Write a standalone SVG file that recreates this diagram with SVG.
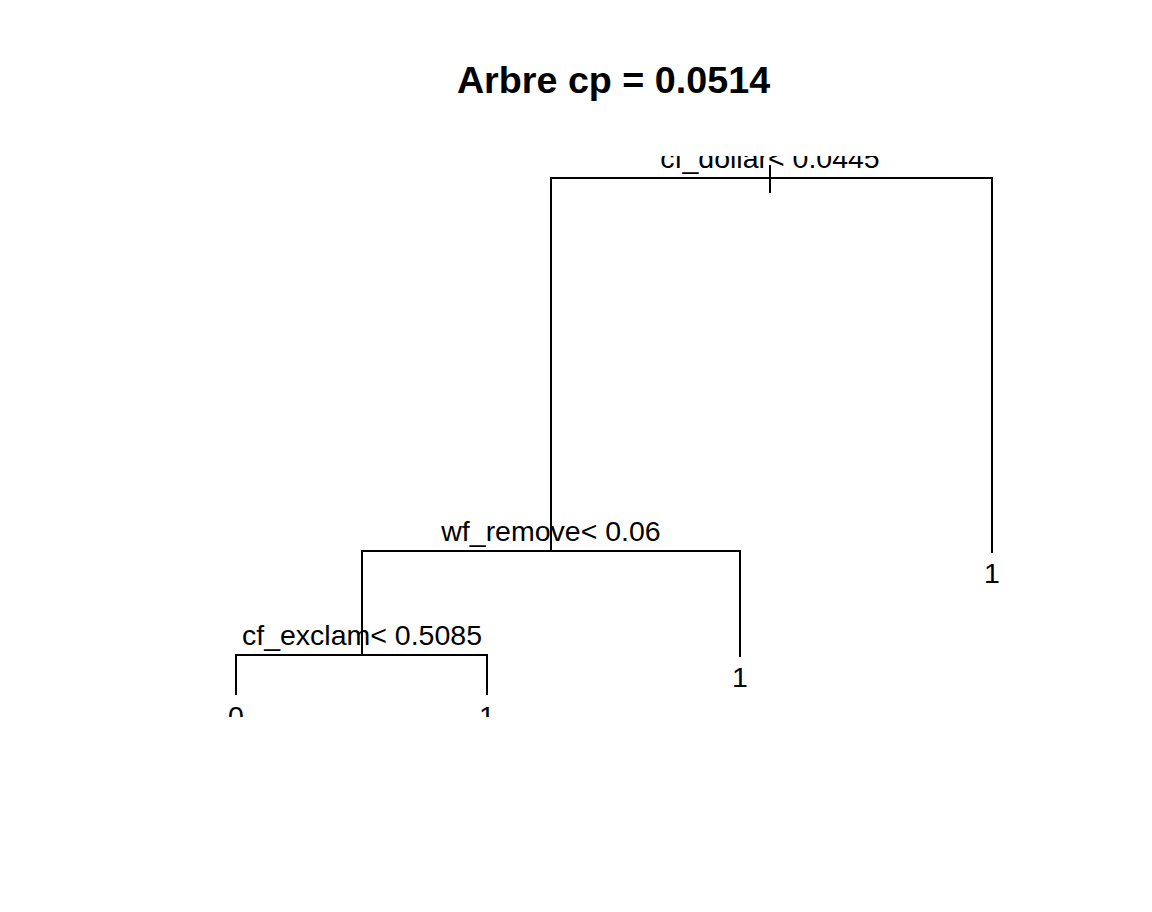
<svg xmlns="http://www.w3.org/2000/svg" width="1152" height="912" viewBox="0 0 1152 912">
<style>
.lbl{font-family:"Liberation Sans",Arial,sans-serif;font-size:28.5px;fill:#000;text-anchor:middle}
.ttl{font-family:"Liberation Sans",Arial,sans-serif;font-size:37.7px;font-weight:bold;fill:#000;text-anchor:middle}
.e{fill:none;stroke:#000;stroke-width:2}
</style>
<defs>
<clipPath id="plot"><rect x="0" y="156" width="1152" height="561"/></clipPath>
</defs>
<rect width="1152" height="912" fill="#fff"/>
<text class="ttl" x="613.5" y="93">Arbre cp = 0.0514</text>
<g clip-path="url(#plot)">
<g id="connectors">
<path class="e" d="M551,551 V178 H992 V553"/>
<path class="e" d="M770,165 V193"/>
<path class="e" d="M362,655 V551 H740 V657"/>
<path class="e" d="M236,695 V655 H487 V695"/>
</g>
<g id="n_root"><text class="lbl" x="770" y="168">cf_dollar&lt; 0.0445</text></g>
<g id="n_remove"><text class="lbl" x="551" y="541">wf_remove&lt; 0.06</text></g>
<g id="n_exclam"><text class="lbl" x="362" y="645">cf_exclam&lt; 0.5085</text></g>
<g id="leaf_r"><text class="lbl" x="992" y="583">1</text></g>
<g id="leaf_m"><text class="lbl" x="740" y="687">1</text></g>
<g id="leaf_l0"><text class="lbl" x="236" y="726">0</text></g>
<g id="leaf_l1"><text class="lbl" x="487" y="726">1</text></g>
</g>
</svg>
